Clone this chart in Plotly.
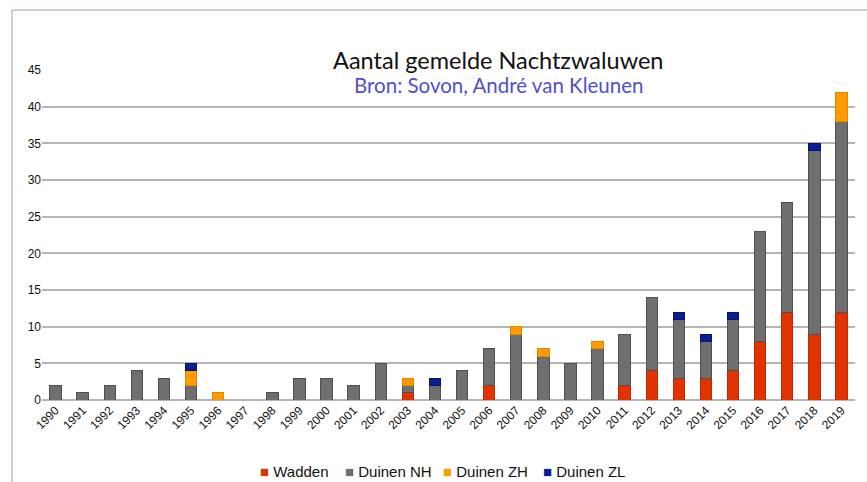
import plotly.graph_objects as go

years = [str(y) for y in range(1990, 2020)]
wadden = [0,0,0,0,0,0,0,0,0,0, 0,0,0,1,0,0,2,0,0,0, 0,2,4,3,3,4,8,12,9,12]
duinen_nh = [2,1,2,4,3,2,0,0,1,3, 3,2,5,1,2,4,5,9,6,5, 7,7,10,8,5,7,15,15,25,26]
duinen_zh = [0,0,0,0,0,2,1,0,0,0, 0,0,0,1,0,0,0,1,1,0, 1,0,0,0,0,0,0,0,0,4]
duinen_zl = [0,0,0,0,0,1,0,0,0,0, 0,0,0,0,1,0,0,0,0,0, 0,0,0,1,1,1,0,0,1,0]

series = [
    ("Wadden", wadden, "#e23200", "#c02a00"),
    ("Duinen NH", duinen_nh, "#6f6f6f", "#505050"),
    ("Duinen ZH", duinen_zh, "#ff9a00", "#e08800"),
    ("Duinen ZL", duinen_zl, "#0a1e96", "#061270"),
]

fig = go.Figure()
for name, vals, col, line in series:
    fig.add_trace(go.Bar(
        x=years, y=[v if v else None for v in vals], name=name,
        marker=dict(color=col, line=dict(color=line, width=1)),
        width=0.42, showlegend=False,
    ))

# legend drawn as text annotations (colored squares + labels)
legend_x = [258, 343, 441, 541]
annotations = [
    dict(text="Aantal gemelde Nachtzwaluwen", xref="paper", yref="paper",
         x=0.561, y=(400 - 60) / 330, xanchor="center", yanchor="middle", showarrow=False,
         font=dict(size=23.5, color="#111", family="Lato, sans-serif")),
    dict(text="Bron: Sovon, André van Kleunen", xref="paper", yref="paper",
         x=0.561, y=(400 - 85) / 330, xanchor="center", yanchor="middle", showarrow=False,
         font=dict(size=20.5, color="#5050cc", family="Lato, sans-serif")),
]
for (name, vals, col, line), lx in zip(series, legend_x):
    annotations.append(dict(
        text=f"<span style='color:{col}'>■</span> {name}",
        xref="paper", yref="paper", x=(lx - 42) / 813, y=(400 - 471) / 330,
        xanchor="left", yanchor="middle", showarrow=False,
        font=dict(size=15, color="#111", family="Liberation Sans, Arial, sans-serif"),
    ))

fig.update_layout(
    barmode="stack",
    width=867, height=482,
    margin=dict(l=42, r=12, t=70, b=82, autoexpand=False),
    paper_bgcolor="white", plot_bgcolor="white",
    font=dict(family="Liberation Sans, Arial, sans-serif", color="#222"),
    xaxis=dict(
        type="category", range=[-0.5, 29.5],
        tickangle=-45, tickfont=dict(size=12, color="#111"),
        showgrid=False, showline=False, ticks="",
    ),
    yaxis=dict(
        range=[0, 45], dtick=5, tick0=0,
        showgrid=True, gridcolor="#b4b4b4", gridwidth=1.5,
        zeroline=True, zerolinecolor="#b4b4b4", zerolinewidth=1.5,
        tickfont=dict(size=12, color="#111"), ticks="",
        showline=False,
    ),
    showlegend=False,
    annotations=annotations,
    shapes=[
        dict(type="rect", xref="paper", yref="paper",
             x0=(12 - 42) / 813, y0=-0.3, x1=1.05, y1=(400 - 10) / 330,
             line=dict(color="#8fa3bf", width=1), layer="below"),
    ],
)

fig.write_html(
    "out.html",
    config={"displayModeBar": False},
    post_script="document.body.style.margin='0';document.body.style.padding='0';document.body.style.overflow='hidden';",
)
